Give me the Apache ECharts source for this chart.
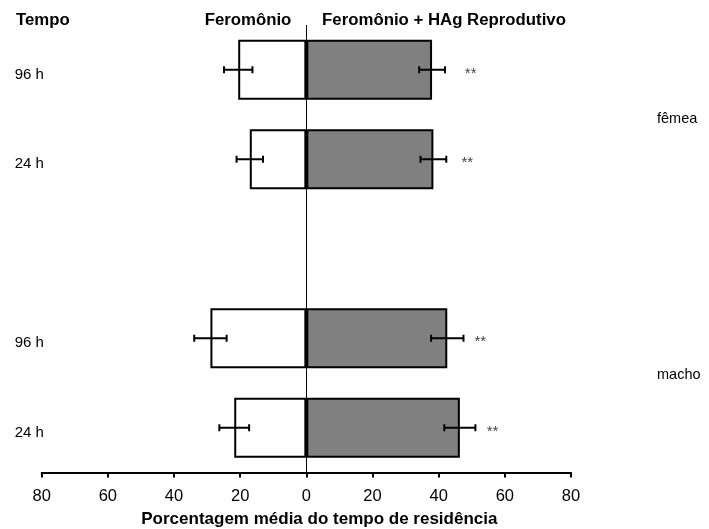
<!DOCTYPE html>
<html lang="pt">
<head>
    <meta charset="UTF-8">
    <title>Tempo de residência</title>
    <script src="https://cdn.jsdelivr.net/npm/echarts@6/dist/echarts.min.js"></script>
    <style>
        html, body { margin: 0; padding: 0; background: #fff; }
        #main { width: 709px; height: 529px; }
    </style>
</head>
<body>
<div id="main"></div>
<script>
    // categorias de cima para baixo (a linha vazia separa fêmea e macho)
    var tempos = ['96 h', '24 h', '', '96 h', '24 h'];
    // Feromônio (lado esquerdo)
    var feromonio = [20.6, 17.1, null, 29.0, 21.8];
    var feromonioErro = [4.3, 4.0, null, 4.9, 4.5];
    // Feromônio + HAg Reprodutivo (lado direito)
    var feromonioHag = [38.0, 38.4, null, 42.6, 46.4];
    var feromonioHagErro = [3.9, 3.9, null, 4.9, 4.7];
    // posição dos asteriscos de significância
    var sigPos = [47.9, 46.9, null, 50.8, 54.5];
    var sigText = ['**', '**', '', '**', '**'];

    var font = 'Liberation Sans, Arial, sans-serif';
    var chart = echarts.init(document.getElementById('main'));

    function errorData(media, erro, sinal) {
        var out = [];
        for (var i = 0; i < media.length; i++) {
            if (media[i] == null) continue;
            out.push([i, sinal * media[i], erro[i]]);
        }
        return out;
    }

    function renderErro(params, api) {
        var cat = api.value(0);
        var m = api.value(1);
        var e = api.value(2);
        var p1 = api.coord([m - e, cat]);
        var p2 = api.coord([m + e, cat]);
        var cap = 3.5;
        var style = { stroke: '#000', lineWidth: 2 };
        return {
            type: 'group',
            children: [
                { type: 'line', shape: { x1: p1[0], y1: p1[1], x2: p2[0], y2: p2[1] }, style: style },
                { type: 'line', shape: { x1: p1[0], y1: p1[1] - cap, x2: p1[0], y2: p1[1] + cap }, style: style },
                { type: 'line', shape: { x1: p2[0], y1: p2[1] - cap, x2: p2[0], y2: p2[1] + cap }, style: style }
            ]
        };
    }

    var sigData = [];
    for (var i = 0; i < sigPos.length; i++) {
        if (sigPos[i] != null) sigData.push([i, sigPos[i], sigText[i]]);
    }

    var option = {
        animation: false,
        backgroundColor: '#fff',
        textStyle: { fontFamily: font },
        grid: { left: 41.7, right: 138, top: 25, bottom: 56.5, outerBoundsMode: 'none' },
        xAxis: {
            type: 'value',
            min: -80,
            max: 80,
            interval: 20,
            axisLine: { show: true, lineStyle: { color: '#000', width: 2 } },
            axisTick: { show: true, length: 5, lineStyle: { color: '#000', width: 2 } },
            axisLabel: {
                color: '#000', fontSize: 16.5, fontFamily: font, margin: 15,
                formatter: function (v) { return Math.abs(v); }
            },
            splitLine: { show: false },
            name: 'Porcentagem média do tempo de residência',
            nameLocation: 'middle',
            nameGap: 38,
            nameTextStyle: {
                color: '#000', fontSize: 17, fontWeight: 'bold', fontFamily: font,
                padding: [0, 0, 0, 26]
            }
        },
        yAxis: {
            type: 'category',
            data: tempos,
            inverse: true,
            axisLine: { show: false },
            axisTick: { show: false },
            axisLabel: {
                color: '#000', fontSize: 15, fontFamily: font,
                align: 'left', margin: 27, verticalAlign: 'top', lineHeight: 10
            },
            splitLine: { show: false }
        },
        graphic: [
            { type: 'text', x: 16, y: 20, style: { text: 'Tempo', font: 'bold 16.8px ' + font, fill: '#000', verticalAlign: 'middle' } },
            { type: 'text', x: 248, y: 20, style: { text: 'Feromônio', font: 'bold 16.8px ' + font, fill: '#000', align: 'center', verticalAlign: 'middle' } },
            { type: 'text', x: 444, y: 20, style: { text: 'Feromônio + HAg Reprodutivo', font: 'bold 16.8px ' + font, fill: '#000', align: 'center', verticalAlign: 'middle' } },
            { type: 'text', x: 657, y: 119, style: { text: 'fêmea', font: '14.5px ' + font, fill: '#000', verticalAlign: 'middle' } },
            { type: 'text', x: 657, y: 375, style: { text: 'macho', font: '14.5px ' + font, fill: '#000', verticalAlign: 'middle' } }
        ],
        series: [
            {
                name: 'Feromônio',
                type: 'bar',
                barWidth: 60,
                barGap: '-100%',
                data: feromonio.map(function (v) { return v == null ? '-' : -v; }),
                itemStyle: { color: '#fff', borderColor: '#000', borderWidth: 2 }
            },
            {
                name: 'Feromônio + HAg Reprodutivo',
                type: 'bar',
                barWidth: 60,
                barGap: '-100%',
                data: feromonioHag.map(function (v) { return v == null ? '-' : v; }),
                itemStyle: { color: '#808080', borderColor: '#000', borderWidth: 2 },
                markLine: {
                    silent: true,
                    symbol: 'none',
                    label: { show: false },
                    lineStyle: { color: '#000', width: 1, type: 'solid' },
                    data: [{ xAxis: 0 }]
                }
            },
            {
                type: 'custom',
                renderItem: renderErro,
                data: errorData(feromonio, feromonioErro, -1),
                encode: { x: 1, y: 0 },
                z: 5
            },
            {
                type: 'custom',
                renderItem: renderErro,
                data: errorData(feromonioHag, feromonioHagErro, 1),
                encode: { x: 1, y: 0 },
                z: 5
            },
            {
                type: 'custom',
                data: sigData,
                encode: { x: 1, y: 0 },
                renderItem: function (params, api) {
                    var p = api.coord([api.value(1), api.value(0)]);
                    return {
                        type: 'text',
                        style: {
                            text: sigText[api.value(0)], x: p[0], y: p[1] + 4,
                            font: '15px ' + font, fill: '#444', verticalAlign: 'middle'
                        }
                    };
                },
                z: 5
            }
        ]
    };
    chart.setOption(option);
</script>
</body>
</html>
